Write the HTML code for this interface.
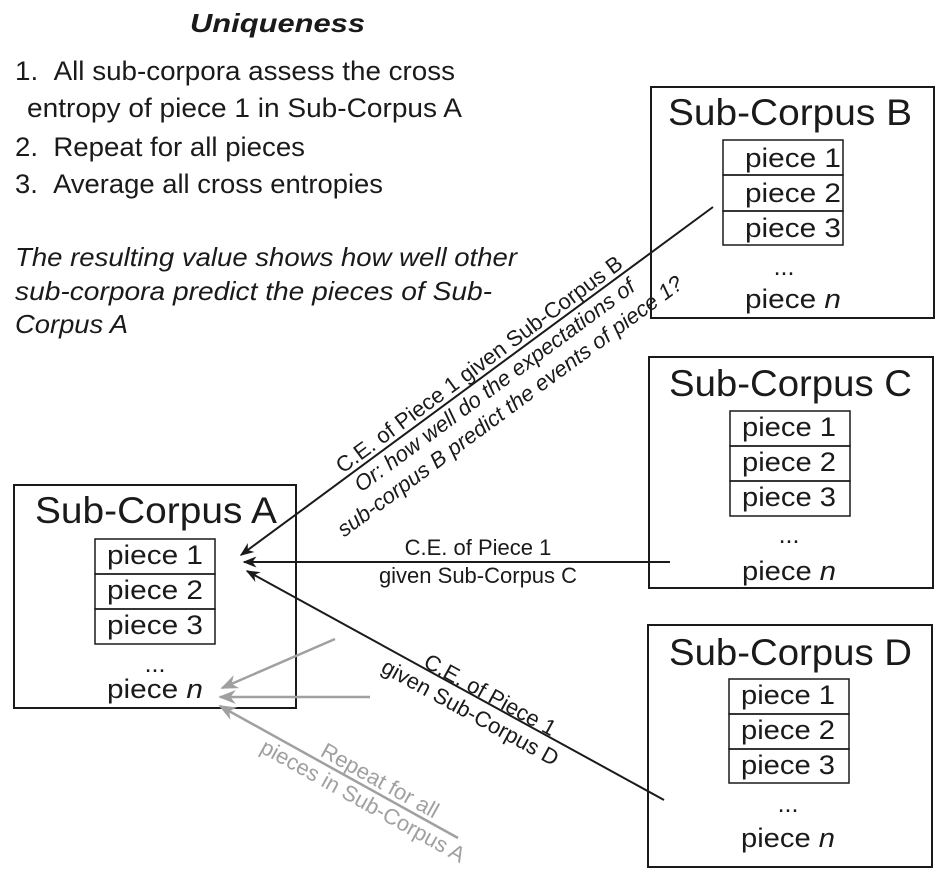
<!DOCTYPE html>
<html><head><meta charset="utf-8"><style>
html,body{margin:0;padding:0;background:#fff;}
svg{display:block;font-family:"Liberation Sans",sans-serif;}
</style></head><body>
<svg width="942" height="881" viewBox="0 0 942 881">
<defs>
<marker id="ah" viewBox="0 0 10 10" refX="9" refY="5" markerWidth="7" markerHeight="7" orient="auto-start-reverse"><path d="M0,1 L10,5 L0,9 L3,5 z" fill="#1a1a1a"/></marker>
<marker id="ahg" viewBox="0 0 10 10" refX="9" refY="5" markerWidth="7" markerHeight="7" orient="auto-start-reverse"><path d="M0,1 L10,5 L0,9 L3,5 z" fill="#a0a0a0"/></marker>
</defs>
<g fill="#1a1a1a" lengthAdjust="spacingAndGlyphs">
<text x="190" y="32" font-size="26" font-weight="bold" font-style="italic" textLength="175" lengthAdjust="spacingAndGlyphs">Uniqueness</text>
<g font-size="27">
<text x="15" y="80" textLength="440" lengthAdjust="spacingAndGlyphs">1.&#160;&#160;All sub-corpora assess the cross</text>
<text x="27" y="117" textLength="435" lengthAdjust="spacingAndGlyphs">entropy of piece 1 in Sub-Corpus A</text>
<text x="15" y="156" textLength="290" lengthAdjust="spacingAndGlyphs">2.&#160;&#160;Repeat for all pieces</text>
<text x="15" y="193" textLength="368" lengthAdjust="spacingAndGlyphs">3.&#160;&#160;Average all cross entropies</text>
</g>
<g font-size="26" font-style="italic">
<text x="15" y="266" textLength="502" lengthAdjust="spacingAndGlyphs">The resulting value shows how well other</text>
<text x="15" y="300" textLength="477" lengthAdjust="spacingAndGlyphs">sub-corpora predict the pieces of Sub-</text>
<text x="15" y="333" textLength="113" lengthAdjust="spacingAndGlyphs">Corpus A</text>
</g>
</g>
<g fill="none" stroke="#1a1a1a" stroke-width="2">
<rect x="651" y="87" width="283" height="231"/>
<rect x="649" y="357" width="284" height="231"/>
<rect x="648" y="625" width="284" height="242"/>
<rect x="14" y="485" width="282" height="223"/>
<g stroke-width="1.5">
<rect x="723" y="140" width="120" height="35"/><rect x="723" y="175" width="120" height="36"/><rect x="723" y="211" width="120" height="34"/>
<rect x="730" y="411" width="120" height="35"/><rect x="730" y="446" width="120" height="35"/><rect x="730" y="481" width="120" height="35"/>
<rect x="729" y="679" width="120" height="35"/><rect x="729" y="714" width="120" height="35"/><rect x="729" y="749" width="120" height="34"/>
<rect x="95" y="539" width="120" height="35"/><rect x="95" y="574" width="120" height="35"/><rect x="95" y="609" width="120" height="35"/>
</g>
</g>
<g fill="#1a1a1a">
<g>
<text x="668" y="125" font-size="37" textLength="244" lengthAdjust="spacingAndGlyphs">Sub-Corpus B</text>
<text x="745" y="167" font-size="27" textLength="96" lengthAdjust="spacingAndGlyphs">piece 1</text><text x="745" y="202" font-size="27" textLength="96" lengthAdjust="spacingAndGlyphs">piece 2</text><text x="745" y="237" font-size="27" textLength="96" lengthAdjust="spacingAndGlyphs">piece 3</text>
<text x="784" y="275" font-size="25" text-anchor="middle">...</text><text x="745" y="308" font-size="27" textLength="96" lengthAdjust="spacingAndGlyphs">piece <tspan font-style="italic">n</tspan></text>
</g>
<g>
<text x="669" y="396" font-size="37" textLength="243" lengthAdjust="spacingAndGlyphs">Sub-Corpus C</text>
<text x="742" y="436" font-size="27" textLength="94" lengthAdjust="spacingAndGlyphs">piece 1</text><text x="742" y="471" font-size="27" textLength="94" lengthAdjust="spacingAndGlyphs">piece 2</text><text x="742" y="506" font-size="27" textLength="94" lengthAdjust="spacingAndGlyphs">piece 3</text>
<text x="789" y="543" font-size="25" text-anchor="middle">...</text><text x="742" y="580" font-size="27" textLength="94" lengthAdjust="spacingAndGlyphs">piece <tspan font-style="italic">n</tspan></text>
</g>
<g>
<text x="669" y="665" font-size="37" textLength="243" lengthAdjust="spacingAndGlyphs">Sub-Corpus D</text>
<text x="741" y="704" font-size="27" textLength="94" lengthAdjust="spacingAndGlyphs">piece 1</text><text x="741" y="739" font-size="27" textLength="94" lengthAdjust="spacingAndGlyphs">piece 2</text><text x="741" y="774" font-size="27" textLength="94" lengthAdjust="spacingAndGlyphs">piece 3</text>
<text x="788" y="812" font-size="25" text-anchor="middle">...</text><text x="741" y="847" font-size="27" textLength="94" lengthAdjust="spacingAndGlyphs">piece <tspan font-style="italic">n</tspan></text>
</g>
<g>
<text x="35" y="523" font-size="37" textLength="242" lengthAdjust="spacingAndGlyphs">Sub-Corpus A</text>
<text x="107" y="564" font-size="27" textLength="96" lengthAdjust="spacingAndGlyphs">piece 1</text><text x="107" y="599" font-size="27" textLength="96" lengthAdjust="spacingAndGlyphs">piece 2</text><text x="107" y="634" font-size="27" textLength="96" lengthAdjust="spacingAndGlyphs">piece 3</text>
<text x="155" y="672" font-size="25" text-anchor="middle">...</text><text x="107" y="698" font-size="27" textLength="96" lengthAdjust="spacingAndGlyphs">piece <tspan font-style="italic">n</tspan></text>
</g>
</g>
<g stroke="#1a1a1a" stroke-width="2">
<line x1="713" y1="207" x2="241" y2="555" marker-end="url(#ah)"/>
<line x1="670" y1="562" x2="244" y2="562" marker-end="url(#ah)"/>
<line x1="664" y1="800" x2="247" y2="571" marker-end="url(#ah)"/>
</g>
<g stroke="#a0a0a0" stroke-width="2.5">
<line x1="335" y1="639" x2="222" y2="688" marker-end="url(#ahg)"/>
<line x1="370" y1="697" x2="220" y2="697" marker-end="url(#ahg)"/>
<line x1="458" y1="838" x2="220" y2="706" marker-end="url(#ahg)"/>
</g>
<g fill="#1a1a1a" font-size="22" text-anchor="middle">
<g transform="translate(476,382) rotate(-36.4)">
<text x="13" y="-5">C.E. of Piece 1 given Sub-Corpus B</text>
<text x="13" y="21" font-style="italic">Or: how well do the expectations of</text>
<text x="13" y="47" font-style="italic">sub-corpus B predict the events of piece 1?</text>
</g>
<g>
<text x="478" y="555">C.E. of Piece 1</text>
<text x="478" y="583">given Sub-Corpus C</text>
</g>
<g transform="translate(454,688) rotate(28.7)">
<text x="35" y="-4">C.E. of Piece 1</text>
<text x="26" y="21">given Sub-Corpus D</text>
</g>
<g fill="#a0a0a0" transform="translate(339,772) rotate(29)">
<text x="40" y="-5">Repeat for all</text>
<text x="35" y="21">pieces in Sub-Corpus A</text>
</g>
</g>
</svg>
</body></html>
